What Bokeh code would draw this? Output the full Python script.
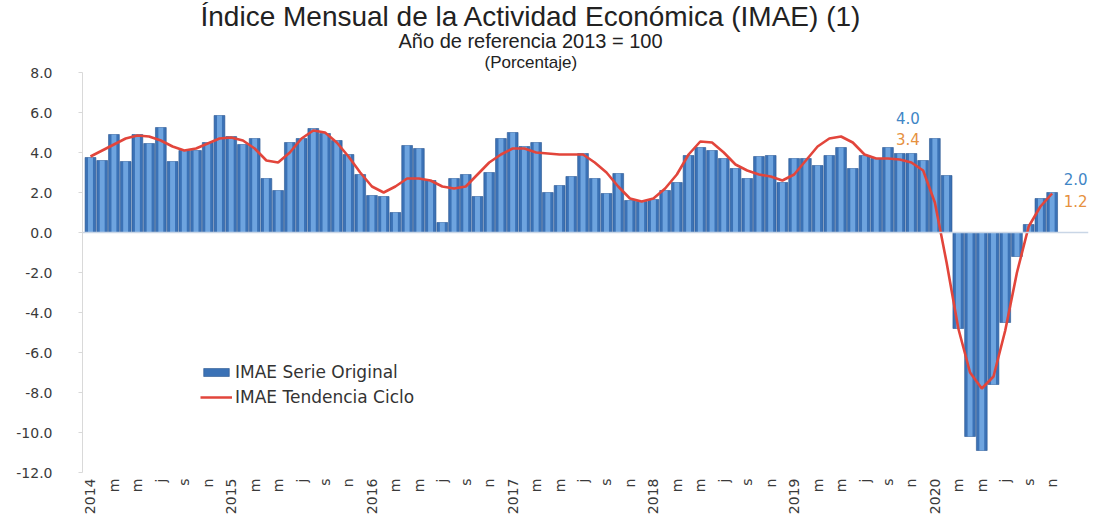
from math import pi
from bokeh.plotting import figure
from bokeh.models import (ColumnDataSource, FixedTicker, Title, Legend, LegendItem,
                          Label, Span, Range1d, NumeralTickFormatter)
from bokeh.embed import file_html
from bokeh.resources import INLINE

# ---------------- data ----------------
years = ["2014", "2015", "2016", "2017", "2018", "2019", "2020"]
month_letters = ["", "m", "m", "j", "s", "n"]   # labels for months 1,3,5,7,9,11 (first = year)

serie_original = [
    # 2014
    3.75, 3.6, 4.9, 3.55, 4.9, 4.45, 5.25, 3.55, 4.1, 4.1, 4.5, 5.85,
    # 2015
    4.8, 4.4, 4.7, 2.7, 2.1, 4.5, 4.7, 5.2, 4.95, 4.6, 3.9, 2.9,
    # 2016
    1.85, 1.8, 1.0, 4.35, 4.2, 2.6, 0.5, 2.7, 2.9, 1.8, 3.0, 4.7,
    # 2017
    5.0, 4.3, 4.5, 2.0, 2.35, 2.8, 3.95, 2.7, 1.95, 2.95, 1.6, 1.55,
    # 2018
    1.65, 2.1, 2.5, 3.85, 4.25, 4.1, 3.7, 3.2, 2.7, 3.8, 3.85, 2.5,
    # 2019
    3.7, 3.7, 3.35, 3.85, 4.25, 3.2, 3.85, 3.7, 4.25, 3.95, 3.95, 3.6,
    # 2020 (ene-nov)
    4.7, 2.85, -4.8, -10.2, -10.9, -7.6, -4.5, -1.2, 0.4, 1.7, 2.0,
]

tendencia_ciclo = [
    3.8, 4.1, 4.4, 4.7, 4.85, 4.8, 4.6, 4.3, 4.1, 4.2, 4.45, 4.7,
    4.75, 4.6, 4.2, 3.6, 3.5, 4.0, 4.7, 5.1, 5.0, 4.5, 3.8, 3.0,
    2.3, 2.0, 2.3, 2.7, 2.7, 2.6, 2.3, 2.2, 2.3, 2.9, 3.5, 3.9,
    4.2, 4.2, 4.0, 3.95, 3.9, 3.9, 3.9, 3.5, 3.0, 2.3, 1.7, 1.55,
    1.7, 2.2, 2.9, 3.9, 4.55, 4.5, 4.0, 3.4, 3.1, 2.9, 2.8, 2.6,
    2.9, 3.6, 4.3, 4.7, 4.8, 4.5, 3.9, 3.7, 3.7, 3.65, 3.5, 3.1,
    1.5, -1.5, -4.8, -7.0, -7.8, -7.2, -4.9, -2.0, 0.3, 1.3, 1.95,
]

# annotated values for nov-2019 and nov-2020 (original, tendencia)
annot_2019 = ["4.0", "3.4"]
annot_2020 = ["2.0", "1.2"]

y_ticks = [-12, -10, -8, -6, -4, -2, 0, 2, 4, 6, 8]

# ---------------- build ----------------
n = len(serie_original)
xs = list(range(n))
src = ColumnDataSource(dict(x=xs, v=serie_original, t=tendencia_ciclo))

tick_pos = []
tick_lab = {}
for k, yr in enumerate(years):
    for j, letter in enumerate(month_letters):
        pos = k * 12 + j * 2
        if pos < n:
            tick_pos.append(pos)
            tick_lab[pos] = yr if j == 0 else letter

W, H = 1095, 525
p = figure(width=W, height=H, x_range=Range1d(-0.68, 85.1), y_range=Range1d(-12, 8),
           output_backend="svg", toolbar_location=None,
           min_border_left=82, min_border_right=W - 1088, min_border_top=72,
           min_border_bottom=H - 472)

p.background_fill_color = "white"
p.border_fill_color = "white"
p.outline_line_color = None
p.xgrid.grid_line_color = None
p.ygrid.grid_line_color = None

outer = p.vbar(x="x", top="v", bottom=0, width=0.92, source=src,
               fill_color="#3b72b6", line_color="#2a5590", line_width=0.6)
inner = p.vbar(x="x", top="v", bottom=0, width=0.42, source=src,
               fill_color="#80b6ec", fill_alpha=0.75, line_color=None)

p.add_layout(Span(location=0, dimension="width", line_color="#c9d6e6", line_width=1.5))

trend = p.line(x="x", y="t", source=src, line_color="#e2453b", line_width=2.6)

# axes
p.xaxis.ticker = FixedTicker(ticks=tick_pos)
p.xaxis.major_label_overrides = tick_lab
p.xaxis.major_label_orientation = pi / 2
p.xaxis.axis_line_color = None
p.xaxis.major_tick_line_color = None
p.xaxis.major_tick_out = 0
p.xaxis.major_tick_in = 0
p.xaxis.minor_tick_line_color = None
p.xaxis.major_label_text_font = "DejaVu Sans"
p.xaxis.major_label_text_font_size = "14px"
p.xaxis.major_label_text_color = "#3a3a3a"
p.xaxis.major_label_standoff = 6

p.yaxis.ticker = FixedTicker(ticks=y_ticks)
p.yaxis.formatter = NumeralTickFormatter(format="0.0")
p.yaxis.axis_line_color = "#d9d9d9"
p.yaxis.major_tick_line_color = "#d9d9d9"
p.yaxis.major_tick_out = 4
p.yaxis.major_tick_in = 0
p.yaxis.minor_tick_line_color = None
p.yaxis.major_label_text_font = "DejaVu Sans"
p.yaxis.major_label_text_font_size = "14px"
p.yaxis.major_label_text_color = "#3a3a3a"
p.yaxis.major_label_standoff = 26

# legend
legend = Legend(items=[LegendItem(label="IMAE Serie Original", renderers=[outer]),
                       LegendItem(label="IMAE Tendencia Ciclo", renderers=[trend])],
                location=(118, 65), glyph_width=32, glyph_height=10,
                label_text_font="DejaVu Sans", label_text_font_size="17px",
                label_text_color="#333333", spacing=5, label_standoff=3,
                padding=0, margin=0, background_fill_alpha=0, border_line_color=None)
p.add_layout(legend)

# value labels
def add_val(x, y, txt, col):
    p.add_layout(Label(x=x, y=y, text=txt, text_color=col, text_align="center",
                       text_baseline="middle", text_font="DejaVu Sans",
                       text_font_size="15px"))

add_val(69.7, 5.75, annot_2019[0], "#3f86c6")
add_val(69.7, 4.7, annot_2019[1], "#e6913f")
add_val(84.0, 2.7, annot_2020[0], "#3f86c6")
add_val(84.0, 1.6, annot_2020[1], "#e6913f")

# titles (first added = closest to plot)
p.add_layout(Title(text="(Porcentaje)", align="left", offset=402, standoff=2,
                   text_font="Liberation Sans", text_font_size="17px",
                   text_font_style="normal", text_color="#222222"), "above")
p.add_layout(Title(text="Año de referencia 2013 = 100", align="left", offset=316, standoff=-4,
                   text_font="Liberation Sans", text_font_size="20px",
                   text_font_style="normal", text_color="#222222"), "above")
p.add_layout(Title(text="Índice Mensual de la Actividad Económica (IMAE) (1)", align="left",
                   offset=118, standoff=-5, text_font="Liberation Sans",
                   text_font_size="28px", text_font_style="normal",
                   text_color="#222222"), "above")

open("out.html", "w").write(file_html(p, INLINE))
